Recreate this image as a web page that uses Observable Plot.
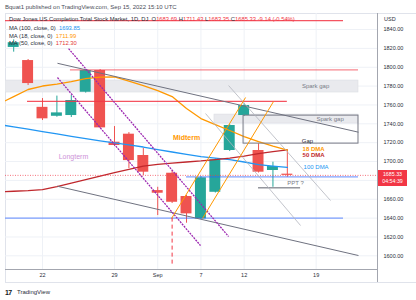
<!DOCTYPE html>
<html><head><meta charset="utf-8">
<script src="https://cdn.jsdelivr.net/npm/d3@7"></script>
<script src="https://cdn.jsdelivr.net/npm/@observablehq/plot@0.6"></script>
<style>
body{margin:0;background:#fff;font-family:"Liberation Sans",Arial,sans-serif;}
#wrap{position:relative;width:416px;height:300px;overflow:hidden;background:#fff;}
#wrap svg{position:absolute;left:0;top:0;}
.t{position:absolute;white-space:nowrap;line-height:1;}
.ln{position:absolute;}
</style></head><body><div id="wrap"></div>
<script>
// ---- trading days (x scale = bar number, index into this list) ----
const tradingDays = ["2022-08-17","2022-08-18","2022-08-19","2022-08-22","2022-08-23","2022-08-24","2022-08-25","2022-08-26",
  "2022-08-29","2022-08-30","2022-08-31","2022-09-01","2022-09-02","2022-09-06","2022-09-07","2022-09-08","2022-09-09",
  "2022-09-12","2022-09-13","2022-09-14","2022-09-15","2022-09-16","2022-09-19","2022-09-20","2022-09-21","2022-09-22","2022-09-23"];
const xTickDates  = ["2022-08-22","2022-08-29","2022-09-01","2022-09-07","2022-09-12","2022-09-19"];
const xTickLabels = ["22","29","Sep","7","12","19"];
const yTicks = [1600,1620,1640,1660,1680,1700,1720,1740,1760,1780,1800,1820,1840];

// ---- candles ----
const candleDates = ["2022-08-18","2022-08-19","2022-08-22","2022-08-23","2022-08-24","2022-08-25","2022-08-26","2022-08-29",
  "2022-08-30","2022-08-31","2022-09-01","2022-09-02","2022-09-06","2022-09-07","2022-09-08","2022-09-09","2022-09-12",
  "2022-09-13","2022-09-14","2022-09-15"];
const open  = [1821,1807.1,1757.5,1748.0,1748.8,1773.5,1796.5,1720.5,1729.0,1706.4,1669.2,1687.6,1662.9,1639.2,1667.4,1711.7,1748.8,1711.7,1690.5,1686.6];
const high  = [1829,1808.2,1766.8,1769.4,1770.0,1797.6,1797.5,1737.1,1730.7,1713.8,1672.7,1690.5,1664.0,1684.0,1703.0,1739.2,1761.5,1718.8,1699.3,1711.43];
const low   = [1816,1780.6,1743.5,1747.0,1746.7,1772.6,1735.0,1715.9,1692.6,1685.2,1642.7,1655.5,1634.6,1638.5,1666.6,1710.6,1747.7,1687.8,1672.7,1683.35];
const close = [1826,1782.7,1745.3,1751.6,1764.7,1796.5,1735.7,1717.0,1701.0,1688.7,1666.4,1656.8,1644.5,1682.7,1701.8,1738.2,1759.4,1688.7,1694.7,1685.33];

// ---- moving averages (Aug 17 .. Sep 15) ----
const maDates = tradingDays.slice(0, 21);
const ma18  = [1761.3,1768.9,1776.4,1780.1,1782.2,1784.8,1788.0,1789.6,1789.8,1785.4,1780.6,1775.3,1768.9,1756.2,1745.6,1739.2,1732.9,1726.5,1721.2,1716.4,1711.99];
const ma100 = [1739.2,1736.8,1734.3,1731.8,1729.3,1726.8,1724.4,1722.0,1719.8,1717.7,1715.4,1712.7,1710.1,1707.6,1705.3,1703.7,1702.1,1699.5,1696.8,1695.2,1693.85];
const ma50  = [1667.7,1668.5,1669.2,1670.3,1673.5,1677.2,1680.9,1684.6,1688.3,1691.7,1695.2,1697.0,1698.4,1699.5,1700.6,1702.1,1703.7,1705.8,1708.5,1710.6,1712.30];
const lastPrice = 1685.33;
const lastTime = "04:54:39";

// ---- drawings (bar number, price) ----
const redLevels   = [{from:0.43,to:23.9,price:1849.5},{from:1.96,to:20.0,price:1763.9}];
const pinkLevels  = [{from:4.94,to:24.94,price:1797.2}];
const blueLevels  = [{from:0.43,to:23.9,price:1639.9},{from:13,to:24.94,price:1683.8}];
const pptLevel    = [{from:18,to:20.92,price:1672.1}];
const grayTrends  = [{b1:4.04,p1:1804.2,b2:24.94,p2:1731.1},{b1:4.04,p1:1673.8,b2:24.94,p2:1600.3}];
const purpleTrends= [{b1:4.81,p1:1819.8,b2:15.92,p2:1620.5},{b1:4.04,p1:1789.1,b2:13.97,p2:1610.9}];
const orangeTrends= [{b1:11.96,p1:1639.6,b2:17.1,p2:1767.9},{b1:14.11,p1:1639.6,b2:19.04,p2:1763.6}];
const lightTrends = [{b1:15.92,p1:1780.6,b2:23,p2:1658.6},{b1:14.32,p1:1750.9,b2:20.92,p2:1632.1}];
const dashedMark  = [{bar:12,p1:1640,p2:1588.7}];
const sparkBoxes  = [{b1:0.43,b2:24.94,lo:1773.2,hi:1785.9},{b1:14.94,b2:24.94,lo:1740.3,hi:1749.8}];
const gapBox      = [{b1:16.96,b2:24.94,lo:1719,hi:1748.7}];
const sparkLabels = [{bar:21.96,price:1779.5,text:"Spark gap"},{bar:22.97,price:1745,text:"Spark gap"}];
const gapLabel    = [{bar:21.4,price:1722.2,text:"Gap"}];
const pptLabel    = [{bar:20.57,price:1676.7,text:"PPT ?"}];
const longLabel   = [{bar:5.15,price:1705.3,text:"Longterm"}];
const midLabel    = [{bar:13,price:1725.4,text:"Midterm"}];
const dma18Label  = [{bar:21.06,price:1713.0,text:"18 DMA"}];
const dma50Label  = [{bar:21.06,price:1707.0,text:"50 DMA"}];
const dma100Label = [{bar:21.13,price:1694,text:"100 DMA"}];

const bar = d => tradingDays.indexOf(d);
const candles = candleDates.map((d,i)=>({x:bar(d),o:open[i],h:high[i],l:low[i],c:close[i]}));
const up = candles.filter(d=>d.c>=d.o), down = candles.filter(d=>d.c<d.o);
const maRows = arr => maDates.map((d,i)=>({x:bar(d),v:arr[i]}));
const xTickPos = xTickDates.map(bar);
// the price tag covers the axis label next to the last price, as in the original
const yLabelTicks = yTicks.filter(v => Math.abs(v - lastPrice) > 9);

const TEAL="#26a69a", RED="#ef5350";
const W = 0.38;
const lvl = (data, o) => Plot.ruleY(data,{y:"price",x1:"from",x2:"to",clip:true,...o});
const seg = (data, o) => Plot.link(data,{x1:"b1",y1:"p1",x2:"b2",y2:"p2",clip:true,...o});
const txt = (data, o) => Plot.text(data,{x:"bar",y:"price",text:"text",fontSize:6,...o});

const chart = Plot.plot({
  width:416, height:300,
  marginTop:13, marginBottom:31, marginLeft:5, marginRight:39,
  style:{fontFamily:"Liberation Sans, Arial, sans-serif", fontSize:"5.5px", color:"#2a2e39", background:"transparent"},
  x:{type:"linear", domain:[0.431,26.26]},
  y:{domain:[1585.5,1857]},
  marks:[
    Plot.gridY(yTicks,{stroke:"#eef1f6",strokeOpacity:1}),
    Plot.gridX(xTickPos,{stroke:"#eef1f6",strokeOpacity:1}),
    Plot.rect(sparkBoxes,{x1:"b1",x2:"b2",y1:"lo",y2:"hi",fill:"#e9eaee",stroke:"#dcdee3",strokeWidth:0.6,clip:true}),
    // candles
    Plot.ruleX(up,{x:"x",y1:"l",y2:"h",stroke:TEAL,strokeWidth:1}),
    Plot.ruleX(down,{x:"x",y1:"l",y2:"h",stroke:RED,strokeWidth:1}),
    Plot.rect(up,{x1:d=>d.x-W,x2:d=>d.x+W,y1:"o",y2:"c",fill:TEAL}),
    Plot.rect(down,{x1:d=>d.x-W,x2:d=>d.x+W,y1:"o",y2:"c",fill:RED}),
    // moving averages
    Plot.line(maRows(ma100),{x:"x",y:"v",stroke:"#2196f3",strokeWidth:1.3,clip:true}),
    Plot.line(maRows(ma50),{x:"x",y:"v",stroke:"#c0282d",strokeWidth:1.3,clip:true}),
    Plot.line(maRows(ma18),{x:"x",y:"v",stroke:"#ff9800",strokeWidth:1.3,clip:true}),
    // last price line
    Plot.ruleY([lastPrice],{stroke:"#f23645",strokeWidth:1,strokeDasharray:"1 1.5",strokeOpacity:0.7}),
    // drawings
    Plot.rect(gapBox,{x1:"b1",x2:"b2",y1:"lo",y2:"hi",fill:"none",stroke:"#787b86",strokeWidth:1,clip:true}),
    lvl(redLevels,{stroke:"#f23645",strokeWidth:1.2,strokeOpacity:0.85}),
    lvl(pinkLevels,{stroke:"#f23645",strokeWidth:1.2,strokeOpacity:0.6}),
    lvl(blueLevels,{stroke:"#2962ff",strokeWidth:1.3,strokeOpacity:0.6}),
    lvl(pptLevel,{stroke:"#5d606b",strokeWidth:1}),
    seg(grayTrends,{stroke:"#6f7280",strokeWidth:1}),
    seg(lightTrends,{stroke:"#b2b5be",strokeWidth:0.8}),
    seg(purpleTrends,{stroke:"#9c27b0",strokeWidth:1.3,strokeDasharray:"2 1"}),
    seg(orangeTrends,{stroke:"#ff9800",strokeWidth:1}),
    Plot.ruleX(dashedMark,{x:"bar",y1:"p1",y2:"p2",stroke:"#f23645",strokeWidth:1,strokeDasharray:"4 3"}),
    // labels
    txt(sparkLabels,{fill:"#787b86",fontSize:6}),
    txt(gapLabel,{fill:"#2a2e39"}),
    txt(pptLabel,{fill:"#787b86"}),
    txt(longLabel,{fill:"#ce93d8",fontSize:7}),
    txt(midLabel,{fill:"#ff9800",fontSize:7,fontWeight:"bold"}),
    txt(dma18Label,{fill:"#ff9800",fontWeight:"bold",textAnchor:"start"}),
    txt(dma50Label,{fill:"#c0282d",fontWeight:"bold",textAnchor:"start"}),
    txt(dma100Label,{fill:"#2196f3",textAnchor:"start"}),
    // axes
    Plot.axisX(xTickPos,{tickSize:0,tickPadding:4,fontSize:5.5,fill:"#2a2e39",tickFormat:d=>xTickLabels[xTickPos.indexOf(d)],label:null}),
    Plot.axisY(yLabelTicks,{anchor:"right",tickSize:0,tickPadding:6,fontSize:5.5,fill:"#2a2e39",tickFormat:d3.format(".2f"),label:null})
  ]
});

const wrap = document.getElementById("wrap");
const addDiv = (css, html, cls) => { const e=document.createElement("div"); e.className=cls||"ln"; e.style.cssText=css; if(html!=null) e.innerHTML=html; wrap.appendChild(e); return e; };
addDiv("left:5px;top:13px;width:410px;height:268px;border:1px solid #e0e3eb;");
wrap.appendChild(chart);
addDiv("left:377px;top:13px;width:1px;height:269px;background:#a3a6af;");
addDiv("left:5px;top:269px;width:372px;height:1px;background:#a3a6af;");

const ys = chart.scale("y");
const py = ys.apply(lastPrice);
// price tag
addDiv(`left:378px;top:${py-4.5}px;width:29px;height:16px;background:#f23645;`);
addDiv(`left:378px;top:${py-3}px;width:29px;text-align:center;font-size:5.3px;color:#fff;`, lastPrice.toFixed(2), "t");
addDiv(`left:378px;top:${py+4}px;width:29px;text-align:center;font-size:5.3px;color:#fff;`, lastTime, "t");
addDiv("left:384px;top:16.5px;font-size:5.5px;color:#2a2e39;", "USD", "t");

// header + legend
const F = "font-size:5.8px;";
addDiv(`left:5px;top:3.5px;font-size:6px;color:#4a4e59;`, "Bquat1 published on TradingView.com, Sep 15, 2022 15:10 UTC", "t");
addDiv(`left:9px;top:16.5px;${F}color:#2a2e39;`,
  'Dow Jones US Completion Total Stock Market, 1D, DJ&nbsp; O<span style="color:#f23645">1683.69</span> H<span style="color:#f23645">1711.43</span> L<span style="color:#f23645">1683.35</span> C<span style="color:#f23645">1685.33</span> <span style="color:#f23645">-9.14 (-0.54%)</span>', "t");
addDiv(`left:9px;top:26px;${F}color:#2a2e39;`, 'MA (100, close, 0)&nbsp; <span style="color:#2196f3">1693.85</span>', "t");
addDiv(`left:9px;top:33.7px;${F}color:#2a2e39;`, 'MA (18, close, 0)&nbsp; <span style="color:#ff9800">1711.99</span>', "t");
addDiv(`left:9px;top:40.8px;${F}color:#2a2e39;`, 'MA (50, close, 0)&nbsp; <span style="color:#e53935">1712.30</span>', "t");
// footer
addDiv("left:5px;top:288.5px;font-size:7px;font-weight:bold;color:#131722;letter-spacing:-0.6px;", "17", "t");
addDiv("left:17px;top:289px;font-size:6px;color:#2a2e39;", "TradingView", "t");
</script></body></html>
